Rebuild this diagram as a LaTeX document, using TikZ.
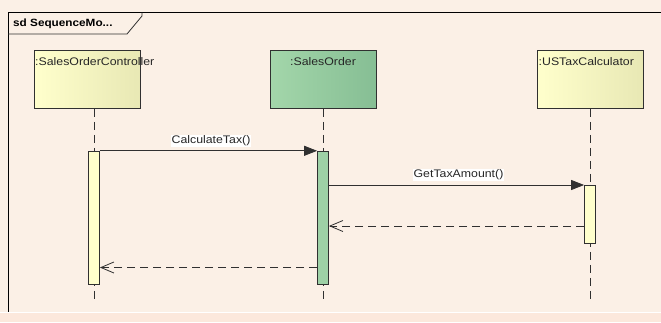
\documentclass[tikz,border=0pt]{standalone}
\usepackage{fontspec}
\setmainfont{Liberation Sans}
\newfontfamily\widefont[FakeStretch=1.12]{Liberation Sans}
\usetikzlibrary{arrows.meta,shadings}
\definecolor{bgc}{HTML}{FBF0E6}
\definecolor{bgb}{HTML}{FCE8DC}
\definecolor{yel1}{HTML}{FFFFCC}
\definecolor{yel2}{HTML}{E8E8B4}
\definecolor{grn1}{HTML}{A3D6AA}
\definecolor{grn2}{HTML}{86BE94}
\definecolor{actg}{HTML}{9ED1A6}
\definecolor{acty}{HTML}{FFFFCC}
\definecolor{linec}{HTML}{303030}
\tikzset{
  lbl/.style={font=\widefont\fontsize{11}{12}\selectfont, inner sep=0.5pt, text=black!85},
  lifebox/.style={draw=linec, line width=0.8pt, minimum width=106pt, minimum height=58pt, inner sep=0pt},
  yelbox/.style={lifebox, left color=yel1, right color=yel2, shading angle=90},
  grnbox/.style={lifebox, left color=grn1, right color=grn2},
  lifeline/.style={draw=linec, line width=0.8pt, dash pattern=on 8pt off 5pt},
  actbar/.style={draw=linec, line width=0.8pt, minimum width=11pt, inner sep=0pt},
  syncmsg/.style={draw=linec, line width=0.8pt, -{Triangle[length=13pt,width=10pt]}},
  retmsg/.style={draw=linec, line width=0.8pt, dash pattern=on 8pt off 5pt, -{Straight Barb[length=13pt,width=11pt,line width=0.8pt]}},
  msglbl/.style={lbl, fill=white, inner sep=1pt}
}
\begin{document}
\begin{tikzpicture}[x=1pt,y=-1pt]
\useasboundingbox (0,0) rectangle (661,322);
\fill[bgc] (0,0) rectangle (661,322);
\fill[bgb] (0,313) rectangle (661,322);
\draw[white, line width=1pt] (0,312.5) -- (661,312.5);
% frame
\draw[black, line width=1pt] (661,12.5) -- (8,12.5) -- (8,312);
\draw[linec, line width=0.8pt] (8,34) -- (127,34) -- (142,16) -- (142,12.5);
\node[anchor=west, font=\widefont\bfseries\fontsize{10.5}{12}\selectfont, inner sep=0pt] (title) at (13,23.5) {sd SequenceMo...};
% lifeline boxes
\node[yelbox, anchor=north west] (soc) at (34,50) {};
\node[grnbox, anchor=north west] (so) at (270,50) {};
\node[yelbox, anchor=north west] (ustc) at (537,50) {};
\node[lbl, anchor=west] (socl) at (34.5,62) {:SalesOrderController};
\node[lbl] (sol) at (323,62) {:SalesOrder};
\node[lbl, anchor=west] (ustcl) at (538,62) {:USTaxCalculator};
% lifeline ends
\coordinate (socend) at (94.5,299);
\coordinate (soend) at (323,299);
\coordinate (ustcend) at (590.5,299);
\draw[lifeline] (soc.south -| socend) -- (socend);
\draw[lifeline] (so.south -| soend) -- (soend);
\draw[lifeline] (ustc.south -| ustcend) -- (ustcend);
% activations
\node[actbar, fill=acty, minimum height=133.5pt, anchor=north] (a1) at (94,150.8) {};
\node[actbar, fill=actg, minimum height=133.5pt, anchor=north] (a2) at (323,150.8) {};
\node[actbar, fill=acty, minimum height=57.5pt, anchor=north] (a3) at (590,185) {};
% messages
\draw[syncmsg] (a1.north east) -- (a2.north west);
\node[msglbl] (m1) at (211,141) {CalculateTax()};
\draw[syncmsg] (a2.east |- a3.north) -- (a3.north west);
\node[msglbl] (m2) at (458.5,175) {GetTaxAmount()};
\coordinate (r1) at (0,226);
\draw[retmsg] (a3.west |- r1) -- (a2.east |- r1);
\coordinate (r2) at (0,267.5);
\draw[retmsg] (a2.west |- r2) -- (a1.east |- r2);
\end{tikzpicture}
\end{document}
